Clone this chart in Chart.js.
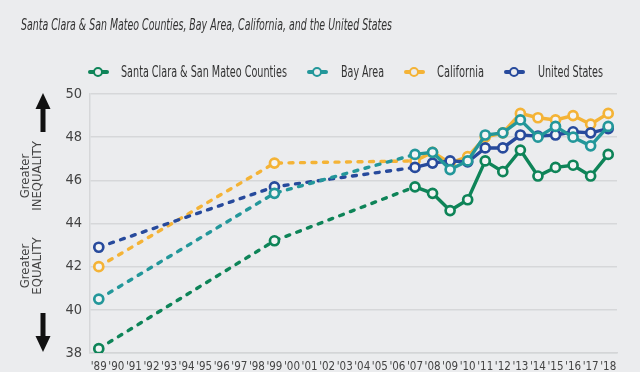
<!DOCTYPE html>
<html>
<head>
<meta charset="utf-8">
<script src="https://cdn.jsdelivr.net/npm/chart.js@4/dist/chart.umd.min.js"></script>
<style>
  body{margin:0;width:640px;height:372px;overflow:hidden;position:relative;background:#ebecee;
       font-family:'Liberation Sans Narrow','DejaVu Sans Condensed',sans-serif;color:#3a3a3a}
  #chart{position:absolute;left:0;top:0}
  .sub{position:absolute;left:21px;top:16px;font-style:italic;font-size:15.5px;white-space:nowrap;transform-origin:0 0;color:#333}
  .leg{position:absolute;top:63px;height:18px;font-size:16px;white-space:nowrap;line-height:18px;transform-origin:0 50%;color:#333}
  .mk{position:absolute;top:70px;width:21px;height:4px;border-radius:2px}
  .mk i{position:absolute;left:5px;top:-3.5px;width:6px;height:6px;border-radius:50%;border:2.5px solid;background:#ebecee}
  .side{position:absolute;width:80px;text-align:center;font-size:13px;line-height:12px;color:#444;transform:rotate(-90deg)}
  .side b{font-weight:normal;display:block}
  svg{position:absolute;left:0;top:0}
</style>
</head>
<body>
<canvas id="chart" width="640" height="380"></canvas>
<div class="sub" id="sub">Santa Clara &amp; San Mateo Counties, Bay Area, California, and the United States</div>
<div id="legend"></div>
<div class="side" style="left:-9px;top:164px"><b>Greater</b><b>INEQUALITY</b></div>
<div class="side" style="left:-9px;top:254px"><b>Greater</b><b>EQUALITY</b></div>
<svg width="60" height="372">
  <polygon points="43,93 50.5,109 45.5,109 45.5,132 40.5,132 40.5,109 35.5,109" fill="#111"/>
  <polygon points="43,352 50.5,336 45.5,336 45.5,313 40.5,313 40.5,336 35.5,336" fill="#111"/>
</svg>
<script>
// ----- Data -----
const TICKS = ["'89","'90","'91","'92","'93","'94","'95","'96","'97","'98","'99","'00","'01","'02","'03",
  "'04","'05","'06","'07","'08","'09","'10","'11","'12","'13","'14","'15","'16","'17","'18"];
const YEARS = ["'89","'99","'07","'08","'09","'10","'11","'12","'13","'14","'15","'16","'17","'18"];

const SANTA_CLARA = [38.2, 43.2, 45.7, 45.4, 44.6, 45.1, 46.9, 46.4, 47.4, 46.2, 46.6, 46.7, 46.2, 47.2];
const BAY_AREA    = [40.5, 45.4, 47.2, 47.3, 46.5, 46.9, 48.1, 48.2, 48.8, 48.0, 48.5, 48.0, 47.6, 48.5];
const CALIFORNIA  = [42.0, 46.8, 46.9, 47.3, 46.8, 47.1, 48.0, 48.2, 49.1, 48.9, 48.8, 49.0, 48.6, 49.1];
const US          = [42.9, 45.7, 46.6, 46.8, 46.9, 46.85, 47.5, 47.5, 48.1, 48.05, 48.1, 48.25, 48.2, 48.4];

const SERIES = [
  {name:'Santa Clara & San Mateo Counties', data:SANTA_CLARA, color:'#0e8458', order:3, legX:88,  txtX:121},
  {name:'Bay Area',      data:BAY_AREA,   color:'#23979a', order:0, legX:307, txtX:341},
  {name:'California',    data:CALIFORNIA, color:'#f4b336', order:2, legX:404, txtX:437},
  {name:'United States', data:US,         color:'#274a9c', order:1, legX:504, txtX:538}
];
const LEG_W = [166, 43, 47, 65];
const FONT = "'Liberation Sans Narrow','DejaVu Sans Condensed',sans-serif";

// ----- Helpers -----
function fitWidth(el, w){
  const r = el.getBoundingClientRect().width;
  if(r>0) el.style.transform = `scaleX(${w/r})`;
}

// ----- Legend -----
const legend = document.getElementById('legend');
SERIES.forEach((s,i)=>{
  const mk = document.createElement('div'); mk.className='mk';
  mk.style.left = s.legX+'px'; mk.style.background = s.color;
  const dot = document.createElement('i'); dot.style.borderColor = s.color; mk.append(dot);
  const tx = document.createElement('div'); tx.className='leg';
  tx.style.left = s.txtX+'px'; tx.textContent = s.name;
  legend.append(mk, tx);
  fitWidth(tx, LEG_W[i]);
});
fitWidth(document.getElementById('sub'), 371);

// ----- Chart -----
// years with no data in between get a dashed connector
const dashGap = c => (c.p1.parsed.x - c.p0.parsed.x > 1) ? [4,7.5] : undefined;

const datasets = SERIES.map(s=>({
  label: s.name,
  data: YEARS.map((y,i)=>({x:y, y:s.data[i]})),
  order: s.order,
  borderColor: s.color,
  borderWidth: 3.4,
  borderCapStyle: 'round',
  pointRadius: 4.5,
  pointBorderWidth: 2.7,
  pointBackgroundColor: '#f3f4f5',
  pointBorderColor: s.color,
  tension: 0,
  segment: { borderDash: dashGap }
}));

new Chart(document.getElementById('chart').getContext('2d'), {
  type: 'line',
  data: { labels: TICKS, datasets },
  options: {
    responsive: false,
    animation: false,
    layout: { padding: { top: 94, right: 23, left: 0, bottom: 0 } },
    plugins: { legend: { display: false }, tooltip: { enabled: false } },
    scales: {
      x: {
        offset: true,
        grid: { display: false, drawTicks: false },
        border: { color: '#d4d5d7', width: 1.5 },
        ticks: { autoSkip: false, maxRotation: 0, padding: 7, color: '#444', font: { family: FONT, size: 11.5 } },
        afterFit: s => { s.height = 27; }
      },
      y: {
        min: 38, max: 50,
        ticks: { stepSize: 2, padding: 8, color: '#444', font: { family: FONT, size: 14.5 } },
        grid: { color: '#d6d7d9', lineWidth: 1.5, drawTicks: false },
        border: { display: true, color: '#d6d7d9', width: 1.5 },
        afterFit: s => { s.width = 90; }
      }
    }
  }
});
</script>
</body>
</html>
